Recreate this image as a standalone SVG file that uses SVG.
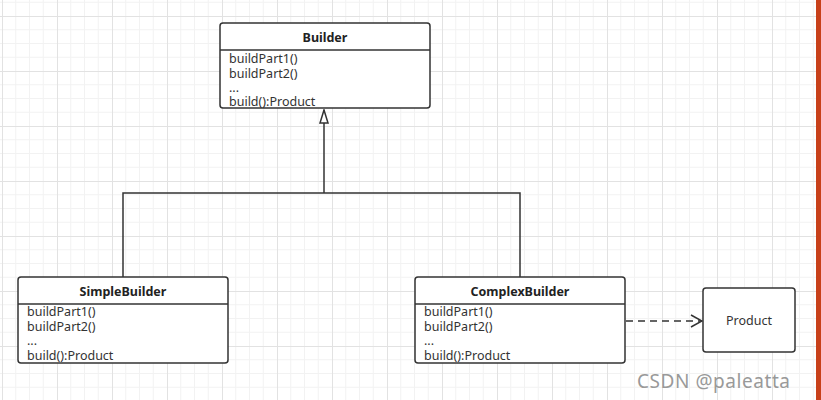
<svg xmlns="http://www.w3.org/2000/svg" width="821" height="400" viewBox="0 0 821 400">
<defs>
<pattern id="grid" x="2" y="16" width="55" height="55" patternUnits="userSpaceOnUse">
<path d="M13.75 0V55M27.5 0V55M41.25 0V55M0 13.75H55M0 27.5H55M0 41.25H55" stroke="#f2f2f2" stroke-width="1" fill="none"/>
<path d="M0.5 0V55M0 0.5H55" stroke="#e2e2e2" stroke-width="1" fill="none"/>
</pattern>
<marker id="hollow" viewBox="0 0 16 12" refX="15" refY="6" markerWidth="16" markerHeight="12" markerUnits="userSpaceOnUse" orient="auto">
<path d="M15 6L2 2V10Z" fill="#fff" stroke="#333" stroke-width="1.5"/>
</marker>
<marker id="open" viewBox="0 0 14 14" refX="13" refY="7" markerWidth="14" markerHeight="14" markerUnits="userSpaceOnUse" orient="auto">
<path d="M2 1L13 7L2 13" fill="none" stroke="#333" stroke-width="1.5"/>
</marker>
</defs>
<style>
.box{fill:#fff;stroke:#333;stroke-width:1.5}
.sep{stroke:#333;stroke-width:1.5}
.title{font-family:"Noto Sans","Open Sans",sans-serif;font-size:12.5px;font-weight:bold;fill:#222;text-anchor:middle}
.item{font-family:"Noto Sans","Open Sans",sans-serif;font-size:12.5px;fill:#333}
.conn{fill:none;stroke:#333;stroke-width:1.5}
</style>
<rect width="821" height="400" fill="#fff"/>
<rect width="816" height="400" fill="url(#grid)"/>
<rect x="816" y="0" width="5" height="400" fill="#c8401a"/>
<g id="connectors">
<path class="conn" d="M324 193V110" marker-end="url(#hollow)"/>
<path class="conn" d="M123 277V193H520V277"/>
<path class="conn" d="M626 321H702" stroke-dasharray="7 5" marker-end="url(#open)"/>
</g>
<g id="Builder">
<rect class="box" x="220" y="23" width="210" height="85" rx="3"/>
<line class="sep" x1="220" y1="50" x2="430" y2="50"/>
<text class="title" x="325" y="42">Builder</text>
<text class="item" x="229" y="63">buildPart1()</text>
<text class="item" x="229" y="77.5">buildPart2()</text>
<text class="item" x="229" y="92">...</text>
<text class="item" x="229" y="106">build():Product</text>
</g>
<g id="SimpleBuilder">
<rect class="box" x="18" y="277" width="210" height="86" rx="3"/>
<line class="sep" x1="18" y1="304" x2="228" y2="304"/>
<text class="title" x="123" y="296">SimpleBuilder</text>
<text class="item" x="27" y="316">buildPart1()</text>
<text class="item" x="27" y="331">buildPart2()</text>
<text class="item" x="27" y="345">...</text>
<text class="item" x="27" y="360">build():Product</text>
</g>
<g id="ComplexBuilder">
<rect class="box" x="415" y="277" width="210" height="86" rx="3"/>
<line class="sep" x1="415" y1="304" x2="625" y2="304"/>
<text class="title" x="520" y="296">ComplexBuilder</text>
<text class="item" x="424" y="316">buildPart1()</text>
<text class="item" x="424" y="331">buildPart2()</text>
<text class="item" x="424" y="345">...</text>
<text class="item" x="424" y="360">build():Product</text>
</g>
<g id="Product">
<rect class="box" x="703" y="288" width="92" height="64" rx="3"/>
<text class="item" x="749" y="325" text-anchor="middle">Product</text>
</g>
<text x="637" y="388" font-family="Noto Sans,sans-serif" font-size="19" fill="#999" textLength="153">CSDN @paleatta</text>
</svg>
